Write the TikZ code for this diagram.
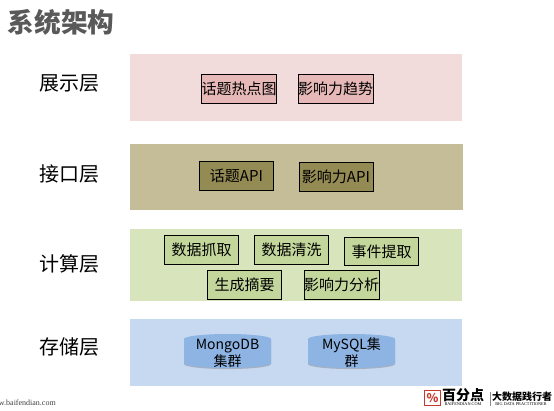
\documentclass[tikz,border=0pt]{standalone}
\usepackage{fontspec}
\setmainfont{Noto Sans CJK SC}
\newfontfamily\latinserif{Liberation Serif}
\usetikzlibrary{shadows}
\definecolor{titlegrey}{HTML}{595959}
\definecolor{pinkband}{HTML}{F2DCDB}
\definecolor{pinkbox}{HTML}{E6B9B8}
\definecolor{oliveband}{HTML}{C4BD97}
\definecolor{olivebox}{HTML}{948A54}
\definecolor{greenband}{HTML}{D8E4BC}
\definecolor{greenbox}{HTML}{C3D69B}
\definecolor{blueband}{HTML}{C6D9F1}
\definecolor{bluedb}{HTML}{8EB4E3}
\definecolor{logored}{HTML}{C8392B}
\tikzset{
  band/.style={inner sep=0,outer sep=0},
  layerlabel/.style={font=\fontsize{15}{18}\selectfont,inner sep=0},
  modbox/.style={draw=black,line width=0.75pt,inner sep=0,minimum width=55.5pt,minimum height=21.5pt,
    font=\fontsize{11.25}{13}\selectfont},
  dbdrum/.style={fill=bluedb,drop shadow={shadow xshift=0pt,shadow yshift=-0.8pt,opacity=0.45}},
  dbtext/.style={inner sep=0,align=center,font=\fontsize{10.5}{12.75}\selectfont},
}
\begin{document}
\begin{tikzpicture}[x=0.75pt,y=-0.75pt]
    \useasboundingbox (0,0) rectangle (554,411);
    \node[font=\fontsize{20}{24}\selectfont\bfseries,text=titlegrey,inner sep=0] (title) at (61,22) {系统架构};
    % bands
    \foreach \name/\xa/\ya/\xb/\yb/\col in {
        show/130/54/462/121/pinkband,
        api/130/144/463/210/oliveband,
        calc/130/229/462/301/greenband,
        store/130/319/462/386/blueband} {
        \node[band,fill=\col,minimum width=(\xb-\xa)*0.75pt,minimum height=(\yb-\ya)*0.75pt]
            (\name) at ({(\xa+\xb)/2},{(\ya+\yb)/2}) {};
    }
    % layer names
    \foreach \name/\y/\txt in {lshow/83/展示层,lapi/174/接口层,lcalc/264/计算层,lstore/347/存储层} {
        \node[layerlabel] (\name) at (69,\y) {\txt};
    }
    % modules
    \foreach \name/\x/\y/\col/\txt in {
        hotmap/239/89/pinkbox/话题热点图,
        trend/335.5/89/pinkbox/影响力趋势,
        topicapi/236.5/176/olivebox/话题API,
        powerapi/336/177/olivebox/影响力API,
        crawl/201.5/250/greenbox/数据抓取,
        clean/291.5/250/greenbox/数据清洗,
        event/381.5/251.5/greenbox/事件提取,
        digest/244.5/285/greenbox/生成摘要,
        analyze/341.5/285/greenbox/影响力分析} {
        \node[modbox,fill=\col] (\name) at (\x,\y) {\txt};
    }
    % storage
    \foreach \x in {227.5,351.5} {
        \path[dbdrum] ({\x-43.5},339) .. controls ({\x-43.5},336.2) and ({\x-24},334) .. (\x,334)
            .. controls ({\x+24},334) and ({\x+43.5},336.2) .. ({\x+43.5},339)
            -- ({\x+43.5},363) .. controls ({\x+43.5},365.8) and ({\x+24},368) .. (\x,368)
            .. controls ({\x-24},368) and ({\x-43.5},365.8) .. ({\x-43.5},363) -- cycle;
    }
    \node[dbtext] (mongo) at (227.5,353.5) {MongoDB\\集群};
    \node[dbtext] (mysql) at (351.5,352.5) {MySQL集\\群};
    % footer
    \node[anchor=east,inner sep=0,font=\latinserif\fontsize{6}{7}\selectfont,text=black!75] (site) at (56,403) {w.baifendian.com};
    \node[draw=logored,line width=0.8pt,fill=white,text=logored,inner sep=0,minimum size=11.5pt,
        font=\fontsize{9}{9}\selectfont\bfseries] (logo) at (432.5,398) {\%};
    \node[inner sep=0,font=\fontsize{10.5}{11}\selectfont\bfseries] (brand) at (463,395.5) {百分点};
    \node[inner sep=0,font=\latinserif\fontsize{3.2}{4}\selectfont] (brandsub) at (463,404.5) {BAIFENDIAN.COM};
    \node[inner sep=0,font=\fontsize{7.5}{8}\selectfont\bfseries] (slogan) at (522,396.5) {大数据践行者};
    \node[inner sep=0,font=\latinserif\fontsize{3.2}{4}\selectfont] (slogansub) at (521,404.5) {BIG DATA PRACTITIONER};
    \coordinate (sepa) at (490,392);
    \coordinate (sepb) at (490,406);
    \draw[black!45,line width=0.3pt] (sepa) -- (sepb);
\end{tikzpicture}
\end{document}
